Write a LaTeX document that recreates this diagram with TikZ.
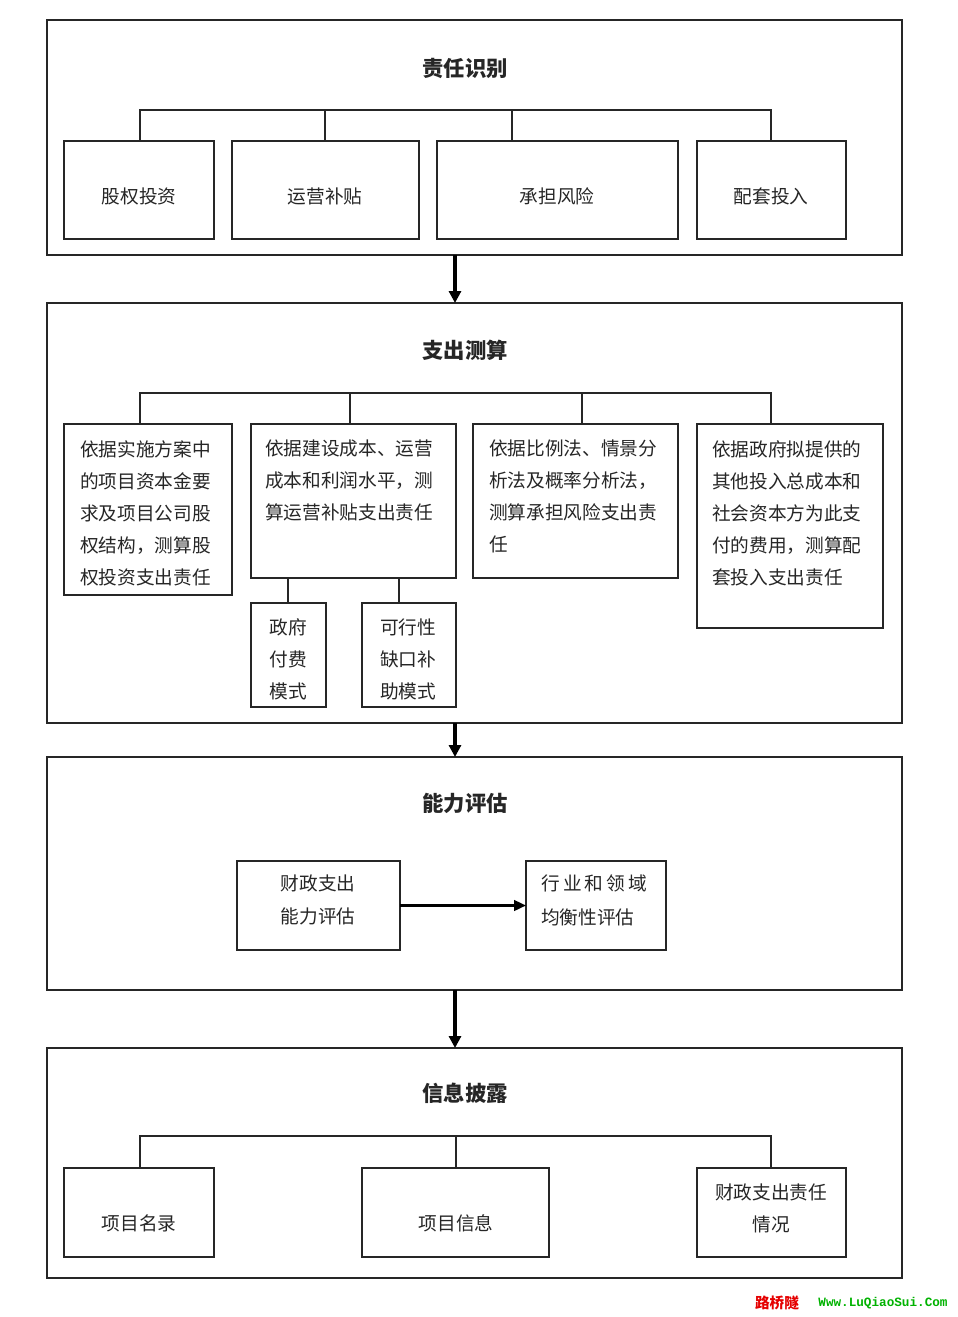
\documentclass[tikz,border=0pt]{standalone}
\usepackage{fontspec}
\setmainfont{Liberation Sans}
\newfontfamily\cjk{Noto Sans CJK SC}
\newfontfamily\wmono{Liberation Mono}
\usetikzlibrary{arrows.meta}
\newcommand\mybox[5]{\node[box, minimum width={(#4-#2)*0.75pt}, minimum height={(#5-#3)*0.75pt}] (#1) at ({(#2+#4)/2},{(#3+#5)/2}) {};}
\tikzset{
  box/.style={draw=black!85, line width=1pt, inner sep=0pt, outer sep=0pt, fill=white},
  txt/.style={inner sep=0pt, font=\cjk\fontsize{14}{24}\selectfont, text=black!85},
  ttl/.style={inner sep=0pt, font=\cjk\bfseries\fontsize{16}{20}\selectfont, text=black!85},
  conn/.style={draw=black!85, line width=1pt},
  flow/.style={draw=black, line width=2.6pt, -{Triangle[length=9pt,width=9pt]}},
}
\begin{document}
\begin{tikzpicture}[x=0.75pt,y=-0.75pt]
\useasboundingbox (0,0) rectangle (957,1317);
% ---------- section 1
\mybox{S1}{47}{20}{902}{255}
\node[ttl] (t1) at (465,68) {责任识别};
\mybox{a1}{64}{141}{214}{239}
\mybox{a2}{232}{141}{419}{239}
\mybox{a3}{437}{141}{678}{239}
\mybox{a4}{697}{141}{846}{239}
\node[txt] (la1) at (139,196) {股权投资};
\node[txt] (la2) at (325,196) {运营补贴};
\node[txt] (la3) at (557,196) {承担风险};
\node[txt] (la4) at (771,196) {配套投入};
\coordinate (b1) at (140,110);
\coordinate (b4) at (771,110);
\draw[conn] (a1.north -| b1) -- (b1) -- (b4) -- (a4.north -| b4);
\draw[conn] (325,110) -- (a2.north -| 325,0);
\draw[conn] (512,110) -- (a3.north -| 512,0);
% ---------- section 2
\mybox{S2}{47}{303}{902}{723}
\node[ttl] (t2) at (465,350) {支出测算};
\mybox{c1}{64}{424}{232}{595}
\mybox{c2}{251}{424}{456}{578}
\mybox{c3}{473}{424}{678}{578}
\mybox{c4}{697}{424}{883}{628}
\node[txt, anchor=north west, align=left] (lc1) at (80,440) {依据实施方案中\\的项目资本金要\\求及项目公司股\\权结构，测算股\\权投资支出责任};
\node[txt, anchor=north west, align=left] (lc2) at (265,440) {依据建设成本、运营\\成本和利润水平，测\\算运营补贴支出责任};
\node[txt, anchor=north west, align=left] (lc3) at (489,440) {依据比例法、情景分\\析法及概率分析法，\\测算承担风险支出责\\任};
\node[txt, anchor=north west, align=left] (lc4) at (712,440) {依据政府拟提供的\\其他投入总成本和\\社会资本方为此支\\付的费用，测算配\\套投入支出责任};
\draw[conn] (c1.north -| 140,0) -- (140,393) -- (771,393) -- (c4.north -| 771,0);
\draw[conn] (350,393) -- (c2.north -| 350,0);
\draw[conn] (582,393) -- (c3.north -| 582,0);
\mybox{d1}{251}{603}{326}{707}
\mybox{d2}{362}{603}{456}{707}
\node[txt, align=center] (ld1) at (288,659) {政府\\付费\\模式};
\node[txt, align=center] (ld2) at (408,659) {可行性\\缺口补\\助模式};
\draw[conn] (c2.south -| 288,0) -- (d1.north -| 288,0);
\draw[conn] (c2.south -| 399,0) -- (d2.north -| 399,0);
% ---------- section 3
\mybox{S3}{47}{757}{902}{990}
\node[ttl] (t3) at (465,803) {能力评估};
\mybox{e1}{237}{861}{400}{950}
\mybox{e2}{526}{861}{666}{950}
\node[txt, align=center, font=\cjk\fontsize{14}{25}\selectfont] (le1) at (318,900) {财政支出\\能力评估};
\node[txt, anchor=north west, align=left, font=\cjk\fontsize{14}{25}\selectfont] (le2) at (541,875) {行\,业\,和\,领\,域\\均衡性评估};
\draw[draw=black, line width=1.8pt, -{Triangle[length=9pt,width=8pt]}] (e1.east) -- (e2.west);
% ---------- section 4
\mybox{S4}{47}{1048}{902}{1278}
\node[ttl] (t4) at (465,1093) {信息披露};
\mybox{f1}{64}{1168}{214}{1257}
\mybox{f2}{362}{1168}{549}{1257}
\mybox{f3}{697}{1168}{846}{1257}
\node[txt] (lf1) at (139,1223) {项目名录};
\node[txt] (lf2) at (456,1223) {项目信息};
\node[txt, align=center] (lf3) at (771,1208) {财政支出责任\\情况};
\draw[conn] (f1.north -| 140,0) -- (140,1136) -- (771,1136) -- (f3.north -| 771,0);
\draw[conn] (456,1136) -- (f2.north -| 456,0);
% ---------- flow arrows
\draw[flow] (S1.south -| 455,0) -- (S2.north -| 455,0);
\draw[flow] (S2.south -| 455,0) -- (S3.north -| 455,0);
\draw[flow] (S3.south -| 455,0) -- (S4.north -| 455,0);
% ---------- watermark
\node[inner sep=0pt, font=\cjk\bfseries\fontsize{11}{12}\selectfont, text=red!90!black] (wm1) at (777,1303) {路桥隧};
\node[inner sep=0pt, font=\wmono\bfseries\fontsize{9.5}{12}\selectfont, text=green!70!black] (wm2) at (883,1303) {Www.LuQiaoSui.Com};
\end{tikzpicture}
\end{document}
